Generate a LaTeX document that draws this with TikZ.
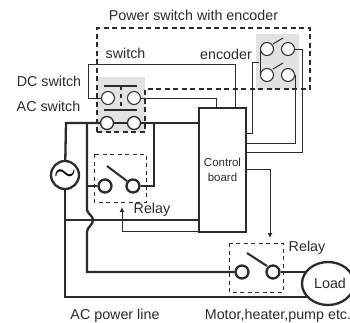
\documentclass[tikz,border=0pt]{standalone}
\usepackage{fontspec}
\setmainfont{Liberation Sans}
\usetikzlibrary{shapes.geometric,arrows.meta}
\definecolor{ink}{HTML}{2B2B2B}
\definecolor{panel}{HTML}{E2E2E2}
\tikzset{
	wire/.style={draw=ink, line width=1pt},
	power/.style={draw=ink, line width=2.3pt},
	terminal/.style={draw=ink, circle, fill=white, inner sep=0pt, minimum size=13pt, line width=1pt},
	label/.style={text=ink, inner sep=0pt, font=\fontsize{14.3}{16}\selectfont},
	relaybox/.style={draw=ink, line width=0.8pt, dash pattern=on 4pt off 3.5pt},
	pack/.style={draw=ink, line width=2pt, dash pattern=on 5pt off 3.5pt}
}
\begin{document}
\begin{tikzpicture}[x=1pt,y=-1pt]
	\useasboundingbox (0,0) rectangle (350,322);
	\fill[panel] (97,77) rectangle (145,132);
	\fill[panel] (256,34) rectangle (299,89);
	\draw[pack] (97,132) -- (97,28) -- (310,28) -- (310,89) -- (145,89) -- (145,132) -- cycle;
	% terminals
	\foreach \name/\x/\y in {dcl/108/98,dcr/134/98,encal/267/49,encar/288/49,encbl/267/75,encbr/288/75}
		\node[terminal] (\name) at (\x,\y) {};
	\foreach \name/\x/\y in {acl/107/123,acr/134/123}
		\node[terminal, line width=1.3pt] (\name) at (\x,\y) {};
	\foreach \name/\x/\y in {relayal/105/186,relayar/133/186,relaybl/242/272,relaybr/273/272}
		\node[terminal, line width=2.3pt] (\name) at (\x,\y) {};
	\node[draw=ink, line width=2.3pt, minimum width=47pt, minimum height=124pt, inner sep=0pt, align=center, font=\fontsize{11.5}{14.5}\selectfont, text=ink] (board) at (222.5,170) {Control\\board};
	\node[draw=ink, circle, line width=2.3pt, minimum size=28pt, inner sep=0pt, font=\fontsize{24}{24}\selectfont\boldmath] (source) at (65,175) {$\sim$};
	\node[draw=ink, ellipse, line width=2.3pt, minimum width=52pt, minimum height=43pt, inner sep=0pt] (load) at (328,283.5) {};
	% free ends
	\coordinate (loadtop) at (306,272);
	\coordinate (loadbot) at (308,297);
	\coordinate (busleft) at (66,123);
	\coordinate (busmid) at (87,123);
	\coordinate (busright) at (154,123);
	\coordinate (jumpa) at (87,210);
	\coordinate (jumpb) at (87,232);
	\coordinate (relaytip) at (122,207);
	\coordinate (relaytipb) at (270,238);
	% control wires
	\draw[wire] (dcl) -| (88,64) -| (235,107);
	\draw[wire] (dcr) -| (216,107);
	\draw[wire] (encal.west) -- (encbl.west);
	\draw[wire] (259,62) -| (252,133) -- (board.east |- 0,133);
	\draw[wire] (encar) -| (302,152) -- (board.east |- 0,152);
	\draw[wire] (encbr.east) |- (board.east |- 0,143);
	\draw[wire, -{Latex[length=5pt,width=5pt]}] (board.east |- 0,169) -| (relaytipb);
	\draw[wire, -{Latex[length=5pt,width=5pt]}] (board.west |- 0,231) -| (relaytip);
	% power lines
	\draw[power] (source) -- (busleft) -- (acl);
	\draw[power] (acl) -- (acr);
	\draw[power] (acr) -- (board.west |- acr);
	\draw[power] (source) |- (loadbot);
	\draw[power] (board.west |- 0,220) -- (source.south |- 0,220);
	\draw[power] (busmid) -- (jumpa) .. controls (88,214) and (93,216) .. (93,220) .. controls (93,225) and (87,227) .. (jumpb) |- (relaybl);
	\draw[power] (relayal) -- (87,186);
	\draw[power] (relayar) -| (busright);
	\draw[power] (relaybr) -- (loadtop);
	% levers and bars
	\foreach \xa/\ya/\xb/\yb in {107/166/127/181,247/253/267/266}
		\draw[power, line width=2pt] (\xa,\ya) -- (\xb,\yb);
	\foreach \xa/\ya/\xb/\yb in {273/44/283/38,273/69/283/63}
		\draw[wire] (\xa,\ya) -- (\xb,\yb);
	\foreach \y in {86,110}
		\draw[power, line width=2pt] (104,\y) -- (137,\y);
	\draw[power, line width=2pt, dash pattern=on 4pt off 4pt] (120.5,86) -- (120.5,110);
	% relay frames
	\draw[relaybox] (94,154) rectangle (146,202);
	\draw[relaybox] (229,243) rectangle (283,292);
	% labels
	\node[label] (title) at (193.5,15) {Power switch with encoder};
	\node[label] (switchlabel) at (125.5,53) {switch};
	\node[label] (encoderlabel) at (226,54) {encoder};
	\node[label] (dclabel) at (49,81) {DC switch};
	\node[label] (aclabel) at (48.5,106) {AC switch};
	\node[label] (relayalabel) at (152,210) {Relay};
	\node[label] (relayblabel) at (307,248) {Relay};
	\node[label] (loadlabel) at (330,283.5) {Load};
	\node[label] (linelabel) at (115,316) {AC power line};
	\node[label] (motorlabel) at (278,316) {Motor,heater,pump etc.};
\end{tikzpicture}
\end{document}
